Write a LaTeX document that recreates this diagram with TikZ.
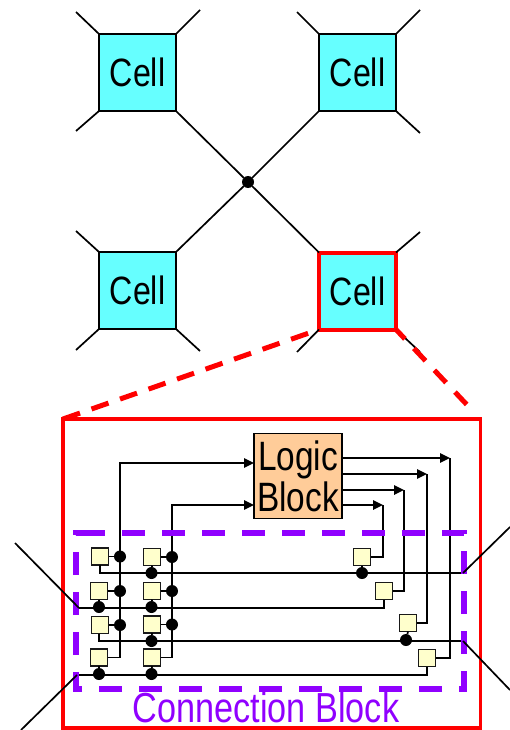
\documentclass[tikz,border=0pt]{standalone}
\usepackage{fontspec}
\setmainfont[FakeStretch=0.815]{Liberation Sans}
\usetikzlibrary{arrows.meta}
\definecolor{cellc}{HTML}{66FFFF}
\definecolor{peach}{HTML}{FFCC99}
\definecolor{cream}{HTML}{FFFFCC}
\definecolor{purp}{HTML}{9000FF}
\tikzset{
  cell/.style={draw=black,line width=1.5pt,fill=cellc,minimum size=77pt,inner sep=0pt,outer sep=0pt,font=\fontsize{39.5}{42}\selectfont},
  wire/.style={draw=black,line width=1.7pt},
  arrowwire/.style={wire,-{Triangle[length=10pt,width=9.5pt]}},
  sq/.style={draw=black!90,line width=1.6pt,fill=cream,minimum size=17pt,inner sep=0pt,outer sep=0pt},
  dot/.style={circle,fill=black,draw=none,minimum size=12pt,inner sep=0pt,outer sep=0pt},
  redline/.style={draw=red,line width=5pt},
}
\begin{document}
\begin{tikzpicture}[x=1pt,y=-1pt]
\useasboundingbox (0,0) rectangle (510,730);
% upper cells
\node[cell] (c1) at (137.5,72.5) {Cell};
\node[cell] (c2) at (357.5,72.5) {Cell};
\node[cell] (c3) at (137.5,290.5) {Cell};
\node[dot] (mid) at (248,182) {};
\foreach \n/\a/\x/\y in {c1/north west/76/12,c1/north east/200/10,c1/south west/76/131,
  c2/north west/297/12,c2/north east/420/10,c2/south east/420/133,
  c3/north west/76/231,c3/south west/76/350,c3/south east/200/351}{
  \coordinate (e) at (\x,\y);
  \draw[wire] (\n.\a) -- (e);
}
\draw[wire] (c1.south east) -- (mid);
\draw[wire] (c2.south west) -- (mid);
\draw[wire] (c3.north east) -- (mid);
% bottom-right cell, outlined red
\node[cell,draw=red,line width=4pt] (c4) at (357.5,291) {Cell};
\coordinate (e1) at (420,232);
\coordinate (e2) at (297,352);
\coordinate (e3) at (420,352);
\draw[wire] (c4.north west) -- (mid);
\draw[wire] (c4.north east) -- (e1);
\draw[wire] (c4.south west) -- (e2);
\draw[wire] (c4.south east) -- (e3);
% big box
\node[draw=red,line width=3.7pt,minimum width=417.5pt,minimum height=309pt,inner sep=0pt,outer sep=0pt] (big) at (271.75,573.5) {};
\coordinate (dashend) at (470,408);
\draw[redline,dash pattern=on 18pt off 12.2pt] (big.north west) -- (c4.south west);
\draw[redline,dash pattern=on 17pt off 13pt,dash phase=4pt] (c4.south east) -- (dashend);
% logic block
\node[draw=black,line width=1.6pt,fill=peach,minimum width=88pt,minimum height=85pt,inner sep=0pt,outer sep=0pt,align=center,font=\fontsize{41}{41}\selectfont] (lb) at (298,476) {Logic\\Block};
% squares
\node[sq] (a1) at (100,556.5) {};
\node[sq] (a2) at (99,591) {};
\node[sq] (a3) at (100,625) {};
\node[sq] (a4) at (99,657.5) {};
\node[sq] (b1) at (152,557) {};
\node[sq] (b2) at (152,591) {};
\node[sq] (b3) at (152,624.5) {};
\node[sq] (b4) at (152,657.5) {};
\node[sq] (r1) at (362,557) {};
\node[sq] (r2) at (384,591) {};
\node[sq] (r3) at (408,623) {};
\node[sq] (r4) at (427,658) {};
% inputs
\coordinate (v1) at (120,463);
\coordinate (v2) at (172,505);
\coordinate (i1) at (254,463);
\coordinate (i2) at (254,505);
\draw[arrowwire] (a4.east) -- (v1 |- a4.east) -- (v1) -- (i1);
\draw[arrowwire] (b4.east) -- (v2 |- b4.east) -- (v2) -- (i2);
\foreach \s/\v/\d in {a1/v1/da1,a2/v1/da2,a3/v1/da3,b1/v2/db1,b2/v2/db2,b3/v2/db3}{
  \node[dot] (\d) at (\v |- \s.east) {};
  \draw[wire] (\s.east) -- (\d);
}
% outputs
\coordinate (o1) at (342,458);
\coordinate (o2) at (342,474);
\coordinate (o3) at (342,490);
\coordinate (o4) at (342,505);
\coordinate (w1) at (450,458);
\coordinate (w2) at (427,474);
\coordinate (w3) at (404,490);
\coordinate (w4) at (383,505);
\draw[arrowwire] (o1) -- (w1);
\draw[arrowwire] (o2) -- (w2);
\draw[arrowwire] (o3) -- (w3);
\draw[arrowwire] (o4) -- (w4);
\draw[wire] (w4) -- (w4 |- r1.east) -- (r1.east);
\draw[wire] (w3) -- (w3 |- r2.east) -- (r2.east);
\draw[wire] (w2) -- (w2 |- r3.east) -- (r3.east);
\draw[wire] (w1) -- (w1 |- r4.east) -- (r4.east);
% horizontal tracks
\coordinate (h1a) at (100,573);
\coordinate (h1b) at (463,573);
\coordinate (h2a) at (79,608);
\coordinate (h2b) at (384,608);
\coordinate (h3a) at (99,641);
\coordinate (h3b) at (463,641);
\coordinate (h4a) at (77,675);
\coordinate (h4b) at (427,675);
\draw[wire] (a1.south -| h1a) -- (h1a) -- (h1b);
\draw[wire] (h2a) -- (h2b) -- (r2.south -| h2b);
\draw[wire] (a3.south -| h3a) -- (h3a) -- (h3b);
\draw[wire] (h4a) -- (h4b) -- (r4.south -| h4b);
% track dots
\node[dot] (t1) at (151.5,573) {};
\node[dot] (t2) at (362,573) {};
\node[dot] (t3) at (99,607) {};
\node[dot] (t4) at (151.5,607) {};
\node[dot] (t5) at (151.5,641) {};
\node[dot] (t6) at (406,640) {};
\node[dot] (t7) at (99,674) {};
\node[dot] (t8) at (151.5,674) {};
\draw[wire] (b1.south) -- (t1);
\draw[wire] (r1.south) -- (t2);
\draw[wire] (a2.south) -- (t3);
\draw[wire] (b2.south) -- (t4);
\draw[wire] (b3.south) -- (t5);
\draw[wire] (r3.south) -- (t6);
\draw[wire] (a4.south) -- (t7);
\draw[wire] (b4.south) -- (t8);
% connection block
\draw[draw=purp,line width=5.2pt,dash pattern=on 23pt off 17pt] (82,533) -- (464,533) -- (464,689) -- (76,689) -- (76,533) -- cycle;
% external diagonals
\coordinate (x1) at (15,543);
\coordinate (x2) at (21,730);
\coordinate (x3) at (510,527);
\coordinate (x4) at (510,690);
\draw[wire] (x1) -- (h2a);
\draw[wire] (x2) -- (h4a);
\draw[wire] (x3) -- (h1b);
\draw[wire] (x4) -- (h3b);
\node[text=purp,font=\fontsize{42}{44}\selectfont,inner sep=0pt] (cb) at (266,707) {Connection Block};
\end{tikzpicture}
\end{document}
